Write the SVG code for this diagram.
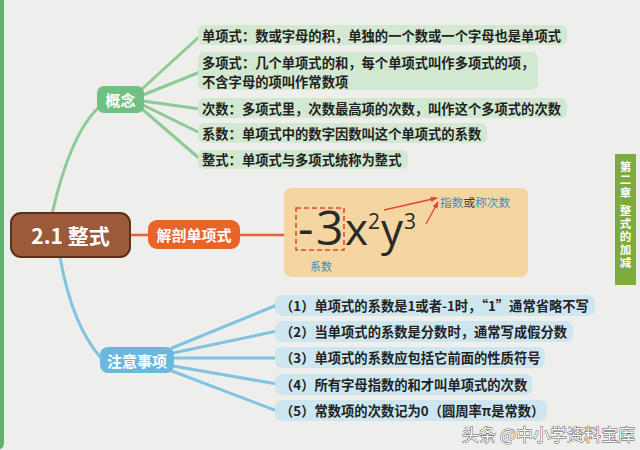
<svg xmlns="http://www.w3.org/2000/svg" width="640" height="450" viewBox="0 0 640 450">
<defs>
<style>
.cn{font-family:"Noto Sans CJK SC","Noto Sans",sans-serif;}
.item{font-family:"Noto Sans CJK SC","Noto Sans",sans-serif;font-size:13.3px;font-weight:700;fill:#222;}
.gbox{fill:#d3e8d0;}
.bbox{fill:#cde6f0;}
.gl{stroke:#8ccb96;stroke-width:3;fill:none;stroke-linecap:round;}
.bl{stroke:#80c4e0;stroke-width:3;fill:none;stroke-linecap:round;}
.nodetxt{font-family:"Noto Sans CJK SC","Noto Sans",sans-serif;font-weight:700;fill:#fff;text-anchor:middle;dominant-baseline:central;}
.math{font-family:"Open Sans","DejaVu Sans",sans-serif;fill:#2a2a2a;}
.vt{font-family:"Noto Sans CJK SC","Noto Sans",sans-serif;font-size:11.5px;font-weight:700;fill:#fff;writing-mode:vertical-rl;letter-spacing:1.5px;}
</style>
<marker id="ah" viewBox="0 0 10 10" refX="9" refY="5" markerWidth="7" markerHeight="7" orient="auto" markerUnits="userSpaceOnUse">
<path d="M0,1 L10,5 L0,9 Z" fill="#e5432e"/>
</marker>
</defs>
<rect width="640" height="450" fill="#eeeeec"/>
<path d="M0,0 H4 V443 Q4,448 0,449 Z" fill="#63b06e"/>

<g id="connectors">
<path class="gl" d="M98,108 Q70,135 52,214"/>
<path class="bl" d="M60,257 Q72,325 101,358"/>
<line x1="130" y1="235" x2="286" y2="235" stroke="#e8602a" stroke-width="2.5"/>
<line class="gl" x1="142" y1="89" x2="200" y2="36"/>
<line class="gl" x1="143" y1="95" x2="200" y2="72"/>
<line class="gl" x1="143" y1="101" x2="200" y2="109"/>
<line class="gl" x1="143" y1="105" x2="200" y2="133"/>
<line class="gl" x1="142" y1="109" x2="200" y2="159"/>
<line class="bl" x1="172" y1="348" x2="277" y2="305"/>
<line class="bl" x1="173" y1="353" x2="277" y2="331"/>
<line class="bl" x1="173" y1="358" x2="277" y2="358"/>
<line class="bl" x1="173" y1="366" x2="277" y2="384"/>
<line class="bl" x1="172" y1="371" x2="277" y2="411"/>
</g>

<g id="n-root">
<rect x="11" y="213" width="119" height="44" rx="10" fill="#9b5b3b" stroke="#5d2e1a" stroke-width="2"/>
<text class="nodetxt" x="70.5" y="235" font-size="21">2.1 整式</text>
</g>

<g id="n-concept">
<rect x="97" y="86" width="47" height="27" rx="7" fill="#72bf84"/>
<text class="nodetxt" x="120.5" y="99" font-size="15">概念</text>
</g>

<g id="n-anatomy">
<rect x="148" y="220" width="92" height="29" rx="9" fill="#e8652a"/>
<text class="nodetxt" x="194" y="234.5" font-size="15">解剖单项式</text>
</g>

<g id="n-notes">
<rect x="100" y="347" width="74" height="26" rx="8" fill="#6bb8dd"/>
<text class="nodetxt" x="137" y="360" font-size="15">注意事项</text>
</g>

<g id="g1">
<rect class="gbox" x="198" y="25" width="369" height="20" rx="6"/>
<text class="item" x="202" y="35" dominant-baseline="central">单项式：数或字母的积，单独的一个数或一个字母也是单项式</text>
</g>
<g id="g2">
<rect class="gbox" x="198" y="52" width="340" height="38" rx="7"/>
<text class="item" x="202" y="62.5" dominant-baseline="central">多项式：几个单项式的和，每个单项式叫作多项式的项，</text>
<text class="item" x="202" y="81.5" dominant-baseline="central">不含字母的项叫作常数项</text>
</g>
<g id="g3">
<rect class="gbox" x="198" y="98" width="369" height="20" rx="6"/>
<text class="item" x="202" y="108" dominant-baseline="central">次数：多项式里，次数最高项的次数，叫作这个多项式的次数</text>
</g>
<g id="g4">
<rect class="gbox" x="198" y="123" width="289" height="20" rx="6"/>
<text class="item" x="202" y="133" dominant-baseline="central">系数：单项式中的数字因数叫这个单项式的系数</text>
</g>
<g id="g5">
<rect class="gbox" x="198" y="150" width="210" height="19" rx="6"/>
<text class="item" x="202" y="159.5" dominant-baseline="central">整式：单项式与多项式统称为整式</text>
</g>

<g id="formula">
<rect x="284" y="188" width="244" height="89" rx="7" fill="#f5d5a0"/>
<rect x="296" y="208" width="48" height="42" fill="none" stroke="#e0452a" stroke-width="1.5" stroke-dasharray="5,3"/>
<text class="math" x="298" y="245" font-size="48">-</text>
<text class="math" x="316" y="245" font-size="48">3</text>
<text class="math" x="345" y="245" font-size="44">x</text>
<text class="math" x="368" y="229" font-size="21">2</text>
<text class="math" x="381" y="245" font-size="44">y</text>
<text class="math" x="404" y="229" font-size="21">3</text>
<text class="cn" x="321" y="266" font-size="11" fill="#3a8fc4" text-anchor="middle" dominant-baseline="central">系数</text>
<line x1="384" y1="210" x2="437" y2="198" stroke="#e5432e" stroke-width="1.3" marker-end="url(#ah)"/>
<line x1="426" y1="224" x2="438" y2="202" stroke="#e5432e" stroke-width="1.3" marker-end="url(#ah)"/>
<text class="cn" x="440" y="201" font-size="11.7" dominant-baseline="central"><tspan fill="#3a8fc4">指数</tspan><tspan fill="#333">或</tspan><tspan fill="#3a8fc4">称次数</tspan></text>
</g>

<g id="b1">
<rect class="bbox" x="275" y="295" width="320" height="21" rx="7"/>
<text class="item" x="280" y="305.5" dominant-baseline="central">（1）单项式的系数是1或者-1时，“1”通常省略不写</text>
</g>
<g id="b2">
<rect class="bbox" x="275" y="321" width="298" height="21" rx="7"/>
<text class="item" x="280" y="331.5" dominant-baseline="central">（2）当单项式的系数是分数时，通常写成假分数</text>
</g>
<g id="b3">
<rect class="bbox" x="275" y="347" width="270" height="21" rx="7"/>
<text class="item" x="280" y="357.5" dominant-baseline="central">（3）单项式的系数应包括它前面的性质符号</text>
</g>
<g id="b4">
<rect class="bbox" x="275" y="374" width="257" height="21" rx="7"/>
<text class="item" x="280" y="384.5" dominant-baseline="central">（4）所有字母指数的和才叫单项式的次数</text>
</g>
<g id="b5">
<rect class="bbox" x="275" y="400" width="272" height="21" rx="7"/>
<text class="item" x="280" y="410.5" dominant-baseline="central">（5）常数项的次数记为0（圆周率π是常数）</text>
</g>

<g id="chapter-tab">
<rect x="615" y="154" width="21" height="131" fill="#7faa3c"/>
<text class="vt" x="625.5" y="161">第二章</text>
<text class="vt" x="625.5" y="205">整式的加减</text>
</g>

<text class="cn" x="462" y="433" font-size="17" fill="#fafafa" stroke="#555" stroke-width="0.9" paint-order="stroke" dominant-baseline="central">头条 @中小学资料宝库</text>
</svg>
